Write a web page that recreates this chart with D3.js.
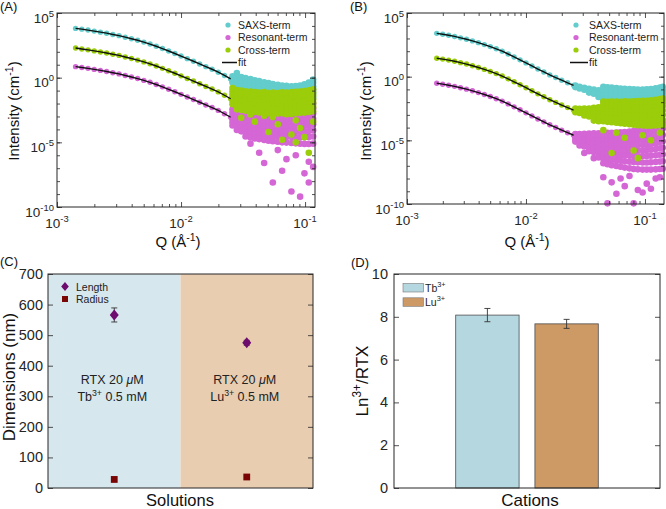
<!DOCTYPE html>
<html>
<head>
<meta charset="utf-8">
<script src="https://cdn.jsdelivr.net/npm/d3@7"></script>
<style>
  body { margin: 0; background: #fff; }
  svg { display: block; font-family: "Liberation Sans", Arial, Helvetica, sans-serif; }
</style>
</head>
<body>
<div id="chart"></div>
<script>
// ---------- data (intensities as log10 values, Q as log10 values) ----------
var qSmoothA = [-2.85, -2.80, -2.75, -2.70, -2.65, -2.60, -2.55, -2.50, -2.45, -2.40, -2.35, -2.30, -2.25,
                -2.20, -2.15, -2.10, -2.05, -2.00, -1.95, -1.90, -1.85, -1.80, -1.75, -1.70, -1.65, -1.60];
var saxsA  = [3.81, 3.75, 3.68, 3.60, 3.52, 3.44, 3.34, 3.25, 3.13, 3.01, 2.89, 2.75, 2.60,
              2.43, 2.25, 2.06, 1.87, 1.67, 1.47, 1.27, 1.06, 0.85, 0.65, 0.42, 0.17, -0.10];
var crossA = [2.29, 2.22, 2.15, 2.07, 1.99, 1.91, 1.81, 1.72, 1.60, 1.48, 1.36, 1.22, 1.07,
              0.90, 0.72, 0.53, 0.34, 0.14, -0.06, -0.26, -0.47, -0.68, -0.88, -1.10, -1.36, -1.63];
var resA   = [0.85, 0.79, 0.72, 0.64, 0.56, 0.48, 0.38, 0.29, 0.17, 0.05, -0.07, -0.21, -0.36,
              -0.53, -0.71, -0.90, -1.09, -1.29, -1.49, -1.69, -1.90, -2.11, -2.31, -2.53, -2.79, -3.06];

// noisy high-Q part: [log10 Q, [log10 I, ...]]
var saxsCloudA = [
  [-1.585, [0.10, -0.05, -0.22, -0.38]], [-1.55, [0.36, 0.02, -0.15, -0.33, -0.50]],
  [-1.515, [0.05, -0.12, -0.30, -0.47, -0.66]], [-1.48, [-0.02, -0.20, -0.41, -0.60, -0.82]],
  [-1.44, [-0.10, -0.31, -0.50, -0.72, -0.95, -1.15]], [-1.405, [-0.20, -0.38, -0.61, -0.83, -1.05, -1.28]],
  [-1.37, [-0.27, -0.47, -0.70, -0.92, -1.14, -1.40]], [-1.33, [-0.36, -0.55, -0.78, -1.01, -1.26, -1.50]],
  [-1.295, [-0.42, -0.63, -0.85, -1.08, -1.33, -1.58]], [-1.26, [-0.50, -0.70, -0.93, -1.17, -1.42, -1.66]],
  [-1.22, [-0.55, -0.76, -0.98, -1.22, -1.47, -1.70]], [-1.185, [-0.60, -0.80, -1.03, -1.27, -1.52, -1.74]],
  [-1.15, [-0.62, -0.84, -1.06, -1.30, -1.55, -1.78]], [-1.11, [-0.66, -0.86, -1.10, -1.33, -1.58, -1.80]],
  [-1.075, [-0.64, -0.85, -1.08, -1.32, -1.57, -1.80]], [-1.04, [-0.60, -0.82, -1.05, -1.30, -1.54, -1.78]],
  [-1.005, [-0.52, -0.75, -1.00, -1.25, -1.50, -1.75]], [-0.97, [-0.38, -0.62, -0.88, -1.14, -1.42, -1.70]],
  [-0.935, [-0.15, -0.40, -0.68, -0.96, -1.25, -1.55]]
];
var crossCloudA = [
  [-1.585, [-0.80, -1.05, -1.30, -1.55, -1.80, -2.05]], [-1.55, [-0.95, -1.20, -1.45, -1.70, -1.95, -2.20, -2.45]],
  [-1.515, [-1.00, -1.25, -1.50, -1.75, -2.00, -2.25, -2.50, -3.10]], [-1.48, [-1.05, -1.30, -1.55, -1.80, -2.05, -2.30, -2.55]],
  [-1.44, [-1.08, -1.33, -1.58, -1.83, -2.08, -2.33, -2.60, -2.85]], [-1.405, [-1.12, -1.37, -1.62, -1.87, -2.12, -2.37, -2.65, -3.40]],
  [-1.37, [-1.15, -1.40, -1.65, -1.90, -2.15, -2.40, -2.70]], [-1.33, [-1.12, -1.37, -1.62, -1.87, -2.12, -2.40, -2.70, -2.95]],
  [-1.295, [-1.18, -1.42, -1.66, -1.92, -2.18, -2.45, -2.75, -4.20]], [-1.26, [-1.15, -1.40, -1.65, -1.90, -2.15, -2.42, -2.72, -3.05]],
  [-1.22, [-1.18, -1.43, -1.68, -1.93, -2.20, -2.48, -2.78, -3.60]], [-1.185, [-1.14, -1.38, -1.63, -1.90, -2.17, -2.45, -2.75, -4.80]],
  [-1.15, [-1.16, -1.40, -1.66, -1.92, -2.20, -2.50, -2.82]], [-1.11, [-1.12, -1.37, -1.62, -1.88, -2.15, -2.45, -2.80, -4.40]],
  [-1.075, [-1.10, -1.35, -1.60, -1.86, -2.13, -2.42, -2.75, -3.30, -5.00]], [-1.04, [-1.08, -1.32, -1.58, -1.84, -2.10, -2.40, -2.72, -3.90]],
  [-1.005, [-1.04, -1.28, -1.54, -1.80, -2.08, -2.38, -2.70, -4.60]], [-0.97, [-0.98, -1.22, -1.48, -1.75, -2.03, -2.33, -2.66, -5.80]],
  [-0.935, [-0.90, -1.15, -1.40, -1.68, -1.96, -2.26, -2.60, -3.40]]
];
var resCloudA = [
  [-1.585, [-2.45, -2.70, -2.95, -3.20, -3.45, -3.70]], [-1.55, [-2.40, -2.68, -2.95, -3.22, -3.50, -3.78, -4.05]],
  [-1.515, [-2.50, -2.78, -3.05, -3.33, -3.60, -3.88, -4.15]], [-1.48, [-2.55, -2.83, -3.10, -3.38, -3.66, -3.95, -4.25, -4.55]],
  [-1.44, [-2.60, -2.88, -3.15, -3.43, -3.72, -4.02, -4.32, -4.62, -5.10]], [-1.405, [-2.62, -2.90, -3.18, -3.47, -3.77, -4.07, -4.38, -4.70]],
  [-1.37, [-2.60, -2.88, -3.17, -3.47, -3.78, -4.10, -4.42, -4.75, -5.80]], [-1.33, [-2.63, -2.92, -3.21, -3.51, -3.82, -4.14, -4.47, -4.82, -6.60]],
  [-1.295, [-2.60, -2.89, -3.19, -3.50, -3.82, -4.15, -4.50, -4.88]], [-1.26, [-2.58, -2.88, -3.18, -3.50, -3.83, -4.17, -4.53, -4.92, -8.10]],
  [-1.22, [-2.55, -2.85, -3.16, -3.48, -3.82, -4.17, -4.55, -4.95, -5.60]], [-1.185, [-2.52, -2.82, -3.14, -3.47, -3.82, -4.18, -4.57, -5.00, -7.20]],
  [-1.15, [-2.48, -2.79, -3.12, -3.46, -3.81, -4.18, -4.58, -5.02, -6.30]], [-1.11, [-2.45, -2.76, -3.09, -3.44, -3.80, -4.18, -4.59, -5.05, -8.80]],
  [-1.075, [-2.40, -2.72, -3.05, -3.41, -3.78, -4.17, -4.60, -5.08, -6.00]], [-1.04, [-2.35, -2.68, -3.02, -3.38, -3.76, -4.16, -4.60, -5.10, -9.20]],
  [-1.005, [-2.28, -2.62, -2.97, -3.34, -3.73, -4.15, -4.60, -5.12, -7.40]], [-0.97, [-2.18, -2.53, -2.90, -3.28, -3.69, -4.12, -4.58, -5.12, -8.10, -6.50]],
  [-0.935, [-2.00, -2.38, -2.77, -3.18, -3.61, -4.06, -4.55, -5.10, -6.90]]
];

var qSmoothB = [-2.75, -2.70, -2.65, -2.60, -2.55, -2.50, -2.45, -2.40, -2.35, -2.30, -2.25, -2.20,
                -2.15, -2.10, -2.05, -2.00, -1.95, -1.90, -1.85, -1.80, -1.75, -1.70, -1.65, -1.60];
var saxsB  = [3.40, 3.33, 3.25, 3.16, 3.05, 2.94, 2.81, 2.67, 2.52, 2.36, 2.19, 2.00,
              1.78, 1.55, 1.32, 1.08, 0.84, 0.60, 0.37, 0.14, -0.07, -0.28, -0.48, -0.68];
var crossB = [1.45, 1.38, 1.30, 1.21, 1.10, 0.99, 0.86, 0.72, 0.57, 0.41, 0.24, 0.05,
              -0.17, -0.40, -0.63, -0.87, -1.11, -1.35, -1.58, -1.81, -2.02, -2.23, -2.43, -2.63];
var resB   = [-0.52, -0.59, -0.67, -0.76, -0.87, -0.98, -1.11, -1.25, -1.40, -1.56, -1.73, -1.92,
              -2.14, -2.37, -2.60, -2.84, -3.08, -3.32, -3.55, -3.78, -3.99, -4.20, -4.40, -4.60];

var saxsCloudB = [
  [-1.585, [-0.70, -0.82]], [-1.55, [-0.80, -0.92]], [-1.51, [-0.88, -1.02]],
  [-1.47, [-0.95, -1.10, -1.25]], [-1.43, [-1.02, -1.18, -1.34]], [-1.39, [-1.08, -1.24, -1.42, -1.60]],
  [-1.35, [-0.80, -1.02, -1.25, -1.48, -1.70, -1.92]], [-1.315, [-0.84, -1.06, -1.29, -1.52, -1.75, -1.98]],
  [-1.28, [-0.86, -1.09, -1.32, -1.56, -1.80, -2.05]], [-1.24, [-0.90, -1.13, -1.36, -1.60, -1.84, -2.08]],
  [-1.205, [-0.93, -1.16, -1.40, -1.64, -1.88, -2.12]], [-1.17, [-0.95, -1.18, -1.42, -1.66, -1.90, -2.15]],
  [-1.13, [-0.98, -1.21, -1.45, -1.69, -1.93, -2.18]], [-1.095, [-1.00, -1.23, -1.47, -1.71, -1.95, -2.20]],
  [-1.06, [-1.02, -1.25, -1.49, -1.73, -1.97, -2.20]], [-1.02, [-1.02, -1.26, -1.50, -1.74, -1.98, -2.20]],
  [-0.985, [-1.00, -1.24, -1.48, -1.72, -1.96, -2.18]], [-0.95, [-0.97, -1.21, -1.45, -1.69, -1.93, -2.15]],
  [-0.91, [-0.92, -1.16, -1.40, -1.64, -1.88, -2.12]], [-0.875, [-0.85, -1.10, -1.35, -1.60, -1.85, -2.10]],
  [-0.85, [-0.80, -1.05, -1.30, -1.55, -1.80, -2.05]]
];
var crossCloudB = [
  [-1.585, [-2.50, -2.65, -2.80]], [-1.55, [-2.52, -2.68, -2.85]], [-1.51, [-2.50, -2.68, -2.88, -3.05]],
  [-1.47, [-2.50, -2.70, -2.92, -3.12]], [-1.43, [-2.45, -2.68, -2.92, -3.18, -3.45]],
  [-1.39, [-2.40, -2.65, -2.92, -3.20, -3.50]], [-1.35, [-1.95, -2.20, -2.45, -2.70, -2.95, -3.22, -3.50, -4.20]],
  [-1.315, [-1.98, -2.23, -2.48, -2.74, -3.00, -3.27, -3.55]], [-1.28, [-1.96, -2.21, -2.47, -2.73, -3.00, -3.28, -3.58, -6.00]],
  [-1.24, [-1.95, -2.20, -2.46, -2.73, -3.01, -3.30, -3.62, -4.40]], [-1.205, [-1.97, -2.22, -2.48, -2.75, -3.03, -3.33, -3.66]],
  [-1.17, [-1.94, -2.20, -2.47, -2.75, -3.04, -3.35, -3.70, -4.80]], [-1.13, [-1.95, -2.21, -2.48, -2.76, -3.06, -3.38, -3.74]],
  [-1.095, [-1.93, -2.19, -2.47, -2.76, -3.07, -3.40, -3.78, -5.80]], [-1.06, [-1.92, -2.18, -2.46, -2.76, -3.08, -3.42, -3.82, -6.40]],
  [-1.02, [-1.90, -2.17, -2.45, -2.75, -3.08, -3.43, -3.84, -4.60]], [-0.985, [-1.89, -2.16, -2.44, -2.75, -3.08, -3.44, -3.86]],
  [-0.95, [-1.86, -2.13, -2.42, -2.73, -3.07, -3.44, -3.86, -5.00]], [-0.91, [-1.82, -2.10, -2.39, -2.71, -3.05, -3.42, -3.84]],
  [-0.875, [-1.76, -2.05, -2.35, -2.68, -3.03, -3.40, -3.82, -4.40]], [-0.85, [-1.72, -2.02, -2.32, -2.65, -3.00, -3.38, -3.80]]
];
var resCloudB = [
  [-1.585, [-4.50, -4.70, -4.90, -5.10]], [-1.55, [-4.50, -4.72, -4.95, -5.18, -5.40]],
  [-1.51, [-4.48, -4.72, -4.97, -5.22, -5.48, -6.00]], [-1.47, [-4.47, -4.73, -5.00, -5.27, -5.55, -5.85]],
  [-1.43, [-4.45, -4.73, -5.02, -5.31, -5.61, -5.92, -6.40]], [-1.39, [-4.44, -4.73, -5.03, -5.34, -5.66, -5.99, -6.35]],
  [-1.35, [-4.42, -4.72, -5.03, -5.36, -5.70, -6.05, -6.42, -6.80, -7.90]], [-1.315, [-4.41, -4.72, -5.04, -5.38, -5.73, -6.09, -6.47, -6.87, -9.95]],
  [-1.28, [-4.40, -4.71, -5.04, -5.39, -5.75, -6.13, -6.53, -6.95, -8.30]], [-1.24, [-4.38, -4.70, -5.04, -5.40, -5.77, -6.16, -6.57, -7.02, -9.20]],
  [-1.205, [-4.36, -4.69, -5.03, -5.40, -5.78, -6.18, -6.61, -7.08, -8.00]], [-1.17, [-4.34, -4.67, -5.02, -5.39, -5.78, -6.20, -6.64, -7.14, -8.60]],
  [-1.13, [-4.31, -4.65, -5.01, -5.39, -5.79, -6.22, -6.68, -7.20, -7.80]], [-1.095, [-4.28, -4.62, -4.99, -5.38, -5.79, -6.23, -6.71, -7.25, -9.95]],
  [-1.06, [-4.24, -4.59, -4.97, -5.37, -5.79, -6.24, -6.73, -7.28, -8.90]], [-1.02, [-4.19, -4.55, -4.94, -5.35, -5.78, -6.24, -6.74, -7.30, -9.10]],
  [-0.985, [-4.12, -4.50, -4.90, -5.32, -5.76, -6.23, -6.74, -7.30, -8.40]], [-0.95, [-4.03, -4.42, -4.84, -5.28, -5.73, -6.21, -6.73, -7.30, -8.80]],
  [-0.91, [-3.90, -4.32, -4.76, -5.22, -5.69, -6.18, -6.70, -7.28, -8.00]], [-0.875, [-3.72, -4.18, -4.65, -5.13, -5.62, -6.13, -6.67, -7.25, -7.90]],
  [-0.85, [-3.60, -4.08, -4.57, -5.07, -5.58, -6.10, -6.64, -7.22]]
];

// panel C
var solutions = ["Tb", "Lu"];
var lengthNm = [566, 475];
var lengthErr = [23, 8];
var radiusNm = [28, 36];

// panel D
var cations = ["Tb", "Lu"];
var lnRatio = [8.08, 7.67];
var lnRatioErr = [0.31, 0.21];

// ---------- drawing ----------
var colSaxs = "#63cccc", colRes = "#d566d5", colCross = "#9bcd0a";
var axisCol = "#262626";

var svg = d3.select("#chart").append("svg")
  .attr("width", 666)
  .attr("height", 509);

// write text with superscript parts: parts = [[string, isSup], ...]
function addSup(t, parts, fs) {
  var up = false;
  parts.forEach(function (p) {
    var s = t.append("tspan").text(p[0]);
    if (p[1]) {
      s.attr("font-size", 0.7 * fs);
      if (!up) { s.attr("dy", -0.42 * fs); up = true; }
    } else if (up) {
      s.attr("dy", 0.42 * fs);
      up = false;
    }
  });
}

function innerTicks(g, gen, tr, vals, len) {
  var a = g.append("g").attr("transform", tr)
    .call(gen.tickValues(vals).tickSizeInner(-len).tickSizeOuter(0).tickFormat(""));
  a.select(".domain").remove();
  a.selectAll("line").attr("stroke", axisCol).attr("stroke-width", 0.8);
}

function logPanel(p) {
  var x = d3.scaleLog().domain(p.xDomain).range([p.left, p.right]);
  var y = d3.scaleLog().domain([1e-10, 1e5]).range([p.bottom, p.top]);
  var g = svg.append("g");
  var px = function (d) { return x(Math.pow(10, d[0])); };
  var py = function (d) { return y(Math.pow(10, d[1])); };

  // scatter: SAXS, resonant, cross (cross on top)
  p.series.forEach(function (s) {
    var pts = s.smooth.map(function (v, i) { return [p.q[i], v, 2.7]; });
    s.cloud.forEach(function (c) {
      c[1].forEach(function (v) { pts.push([c[0], v, 3.3]); });
    });
    g.append("g").selectAll("circle")
      .data(pts)
      .enter()
      .append("circle")
      .attr("cx", px)
      .attr("cy", py)
      .attr("r", function (d) { return d[2]; })
      .attr("fill", s.color);
  });

  // fit lines
  var line = d3.line().x(px).y(py);
  p.series.forEach(function (s) {
    g.append("path")
      .datum(s.smooth.map(function (v, i) { return [p.q[i], v]; }))
      .attr("d", line)
      .attr("fill", "none")
      .attr("stroke", "#111")
      .attr("stroke-width", 1.4);
  });

  // ticks
  var isPow = function (v) { var l = Math.log10(v); return Math.abs(l - Math.round(l)) < 1e-6; };
  var xt = x.ticks();
  var xMaj = xt.filter(isPow);
  var xMin = xt.filter(function (v) { return !isPow(v); });
  var yMaj = [1e-10, 1e-5, 1, 1e5];
  var yMin = d3.range(-10, 6).map(function (e) { return Math.pow(10, e); });

  innerTicks(g, d3.axisBottom(x), "translate(0," + p.bottom + ")", xMaj, 5);
  innerTicks(g, d3.axisBottom(x), "translate(0," + p.bottom + ")", xMin, 3);
  innerTicks(g, d3.axisTop(x), "translate(0," + p.top + ")", xMaj, 5);
  innerTicks(g, d3.axisTop(x), "translate(0," + p.top + ")", xMin, 3);
  innerTicks(g, d3.axisLeft(y), "translate(" + p.left + ",0)", yMin, 3);
  innerTicks(g, d3.axisLeft(y), "translate(" + p.left + ",0)", yMaj, 5);
  innerTicks(g, d3.axisRight(y), "translate(" + p.right + ",0)", yMin, 3);
  innerTicks(g, d3.axisRight(y), "translate(" + p.right + ",0)", yMaj, 5);

  // box
  g.append("rect")
    .attr("x", p.left).attr("y", p.top)
    .attr("width", p.right - p.left).attr("height", p.bottom - p.top)
    .attr("fill", "none").attr("stroke", axisCol).attr("stroke-width", 1);

  // tick labels
  var fs = 13.5;
  xMaj.forEach(function (v) {
    var t = g.append("text")
      .attr("x", x(v)).attr("y", p.bottom + 21)
      .attr("text-anchor", "middle").attr("font-size", fs).attr("fill", axisCol);
    addSup(t, [["10", 0], [String(Math.round(Math.log10(v))), 1]], fs);
  });
  yMaj.forEach(function (v) {
    var t = g.append("text")
      .attr("x", p.left - 3).attr("y", y(v) + 9.5)
      .attr("text-anchor", "end").attr("font-size", fs).attr("fill", axisCol);
    addSup(t, [["10", 0], [String(Math.round(Math.log10(v))), 1]], fs);
  });

  // axis titles
  var xt2 = g.append("text")
    .attr("x", p.xTitleX).attr("y", 247)
    .attr("text-anchor", "middle").attr("font-size", 15).attr("fill", "#111");
  addSup(xt2, [["Q (Å", 0], ["-1", 1], [")", 0]], 15);
  var yt = g.append("text")
    .attr("transform", "translate(" + p.yTitleX + ",111) rotate(-90)")
    .attr("text-anchor", "middle").attr("font-size", 15).attr("fill", "#111");
  addSup(yt, [["Intensity (cm", 0], ["-1", 1], [")", 0]], 15);

  // panel label
  g.append("text").attr("x", p.labelX).attr("y", 11)
    .attr("font-size", 13).attr("fill", "#111").text(p.label);

  // legend
  var names = ["SAXS-term", "Resonant-term", "Cross-term"];
  p.series.forEach(function (s, i) {
    var ly = 25 + i * 12.5;
    g.append("circle").attr("cx", p.legX).attr("cy", ly).attr("r", 2.6).attr("fill", s.color);
    g.append("text").attr("x", p.legTextX).attr("y", ly + 3.6)
      .attr("font-size", 10.5).attr("fill", "#222").text(names[i]);
  });
  g.append("line")
    .attr("x1", p.legX - 6).attr("x2", p.legTextX - 1)
    .attr("y1", 62.5).attr("y2", 62.5)
    .attr("stroke", "#111").attr("stroke-width", 1.5);
  g.append("text").attr("x", p.legTextX).attr("y", 66)
    .attr("font-size", 10.5).attr("fill", "#222").text("fit");
}

logPanel({
  label: "(A)", labelX: 0,
  xDomain: [1e-3, Math.pow(10, -0.92)],
  left: 57, right: 315, top: 13, bottom: 207,
  xTitleX: 178, yTitleX: 19,
  legX: 228, legTextX: 238,
  q: qSmoothA,
  series: [
    { color: colSaxs, smooth: saxsA, cloud: saxsCloudA },
    { color: colRes, smooth: resA, cloud: resCloudA },
    { color: colCross, smooth: crossA, cloud: crossCloudA }
  ]
});

logPanel({
  label: "(B)", labelX: 350,
  xDomain: [1e-3, Math.pow(10, -0.84)],
  left: 407, right: 664, top: 13, bottom: 204,
  xTitleX: 527, yTitleX: 371,
  legX: 576, legTextX: 589,
  q: qSmoothB,
  series: [
    { color: colSaxs, smooth: saxsB, cloud: saxsCloudB },
    { color: colRes, smooth: resB, cloud: resCloudB },
    { color: colCross, smooth: crossB, cloud: crossCloudB }
  ]
});

// ---------- panel C ----------
(function () {
  var left = 48, right = 313, top = 274, bottom = 488;
  var x = d3.scaleLinear().domain([0, 2]).range([left, right]);
  var y = d3.scaleLinear().domain([0, 700]).range([bottom, top]);
  var g = svg.append("g");
  var bg = ["#d6e7ed", "#e9cdb1"];
  var ions = ["Tb", "Lu"];

  g.selectAll("rect.region")
    .data(solutions)
    .enter()
    .append("rect")
    .attr("x", function (d, i) { return x(i); })
    .attr("y", top)
    .attr("width", function (d, i) { return x(i + 1) - x(i); })
    .attr("height", bottom - top)
    .attr("fill", function (d, i) { return bg[i]; });

  var yt = d3.range(0, 701, 100);
  innerTicks(g, d3.axisLeft(y), "translate(" + left + ",0)", yt, 5);
  innerTicks(g, d3.axisRight(y), "translate(" + right + ",0)", yt, 5);

  g.append("rect")
    .attr("x", left).attr("y", top)
    .attr("width", right - left).attr("height", bottom - top)
    .attr("fill", "none").attr("stroke", axisCol).attr("stroke-width", 1);

  yt.forEach(function (v) {
    g.append("text").attr("x", left - 5).attr("y", y(v) + 5)
      .attr("text-anchor", "end").attr("font-size", 14.5).attr("fill", axisCol).text(v);
  });

  // annotations
  solutions.forEach(function (s, i) {
    var cx = x(i + 0.5) - 2;
    var t1 = g.append("text").attr("x", cx).attr("y", 384)
      .attr("text-anchor", "middle").attr("font-size", 12.5).attr("fill", "#222");
    t1.append("tspan").text("RTX 20 ");
    t1.append("tspan").attr("font-style", "italic").text("μ");
    t1.append("tspan").text("M");
    var t2 = g.append("text").attr("x", cx).attr("y", 401)
      .attr("text-anchor", "middle").attr("font-size", 12.5).attr("fill", "#222");
    addSup(t2, [[ions[i], 0], ["3+", 1], [" 0.5 mM", 0]], 12.5);
  });

  // error bars + markers
  var diamond = "M0,-5.5L4.5,0L0,5.5L-4.5,0Z";
  solutions.forEach(function (s, i) {
    var cx = x(i + 0.5);
    var y1 = y(lengthNm[i] + lengthErr[i]), y2 = y(lengthNm[i] - lengthErr[i]);
    g.append("line").attr("x1", cx).attr("x2", cx).attr("y1", y1).attr("y2", y2)
      .attr("stroke", "#333").attr("stroke-width", 0.9);
    [y1, y2].forEach(function (yy) {
      g.append("line").attr("x1", cx - 3).attr("x2", cx + 3).attr("y1", yy).attr("y2", yy)
        .attr("stroke", "#333").attr("stroke-width", 0.9);
    });
  });
  g.selectAll("path.len")
    .data(lengthNm)
    .enter()
    .append("path")
    .attr("d", diamond)
    .attr("transform", function (d, i) { return "translate(" + x(i + 0.5) + "," + y(d) + ")"; })
    .attr("fill", "#6e0b6e");
  g.selectAll("rect.rad")
    .data(radiusNm)
    .enter()
    .append("rect")
    .attr("x", function (d, i) { return x(i + 0.5) - 3.4; })
    .attr("y", function (d) { return y(d) - 3.4; })
    .attr("width", 6.8).attr("height", 6.8)
    .attr("fill", "#7a0505");

  // legend
  g.append("path").attr("d", "M0,-4.5L3.8,0L0,4.5L-3.8,0Z")
    .attr("transform", "translate(65,286.5)").attr("fill", "#6e0b6e");
  g.append("text").attr("x", 76).attr("y", 290.5).attr("font-size", 10.5).attr("fill", "#222").text("Length");
  g.append("rect").attr("x", 62).attr("y", 296).attr("width", 6).attr("height", 6).attr("fill", "#7a0505");
  g.append("text").attr("x", 76).attr("y", 302.5).attr("font-size", 10.5).attr("fill", "#222").text("Radius");

  // titles
  g.append("text").attr("transform", "translate(15,377) rotate(-90)")
    .attr("text-anchor", "middle").attr("font-size", 17).attr("fill", "#111").text("Dimensions (nm)");
  g.append("text").attr("x", 180).attr("y", 506)
    .attr("text-anchor", "middle").attr("font-size", 16.5).attr("fill", "#111").text("Solutions");
  g.append("text").attr("x", 0).attr("y", 266).attr("font-size", 13).attr("fill", "#111").text("(C)");
})();

// ---------- panel D ----------
(function () {
  var left = 394, right = 660, top = 274, bottom = 488;
  var x0 = d3.scaleLinear().domain([0.5, 1.5]).range([left, right]);
  var x = d3.scaleBand().domain(cations)
    .range([x0(1 - 0.268), x0(1 + 0.268)])
    .paddingInner(0.2);
  var y = d3.scaleLinear().domain([0, 10]).range([bottom, top]);
  var g = svg.append("g");
  var fills = ["#b5d7e0", "#cd9965"];

  g.selectAll("rect.bar")
    .data(lnRatio)
    .enter()
    .append("rect")
    .attr("x", function (d, i) { return x(cations[i]); })
    .attr("y", function (d) { return y(d); })
    .attr("width", x.bandwidth())
    .attr("height", function (d) { return bottom - y(d); })
    .attr("fill", function (d, i) { return fills[i]; })
    .attr("stroke", "#4d4d4d")
    .attr("stroke-width", 0.8);

  lnRatio.forEach(function (v, i) {
    var cx = x(cations[i]) + x.bandwidth() / 2;
    var y1 = y(v + lnRatioErr[i]), y2 = y(v - lnRatioErr[i]);
    g.append("line").attr("x1", cx).attr("x2", cx).attr("y1", y1).attr("y2", y2)
      .attr("stroke", "#333").attr("stroke-width", 0.9);
    [y1, y2].forEach(function (yy) {
      g.append("line").attr("x1", cx - 3).attr("x2", cx + 3).attr("y1", yy).attr("y2", yy)
        .attr("stroke", "#333").attr("stroke-width", 0.9);
    });
  });

  var yt = d3.range(0, 11, 2);
  innerTicks(g, d3.axisLeft(y), "translate(" + left + ",0)", yt, 5);
  innerTicks(g, d3.axisRight(y), "translate(" + right + ",0)", yt, 5);
  g.append("rect")
    .attr("x", left).attr("y", top)
    .attr("width", right - left).attr("height", bottom - top)
    .attr("fill", "none").attr("stroke", axisCol).attr("stroke-width", 1);
  yt.forEach(function (v) {
    g.append("text").attr("x", left - 6).attr("y", y(v) + 5)
      .attr("text-anchor", "end").attr("font-size", 14.5).attr("fill", axisCol).text(v);
  });

  // legend
  cations.forEach(function (c, i) {
    var ly = 283.5 + i * 14.3;
    g.append("rect").attr("x", 403).attr("y", ly).attr("width", 20.5).attr("height", 8.5)
      .attr("fill", fills[i]).attr("stroke", "#777").attr("stroke-width", 0.6);
    var t = g.append("text").attr("x", 425).attr("y", ly + 8)
      .attr("font-size", 10.5).attr("fill", "#222");
    addSup(t, [[c, 0], ["3+", 1]], 10.5);
  });

  // titles
  var yl = g.append("text").attr("transform", "translate(368,381) rotate(-90)")
    .attr("text-anchor", "middle").attr("font-size", 17).attr("fill", "#111");
  addSup(yl, [["Ln", 0], ["3+", 1], ["/RTX", 0]], 17);
  g.append("text").attr("x", 530).attr("y", 506)
    .attr("text-anchor", "middle").attr("font-size", 17).attr("fill", "#111").text("Cations");
  g.append("text").attr("x", 351).attr("y", 267).attr("font-size", 13).attr("fill", "#111").text("(D)");
})();
</script>
</body>
</html>
